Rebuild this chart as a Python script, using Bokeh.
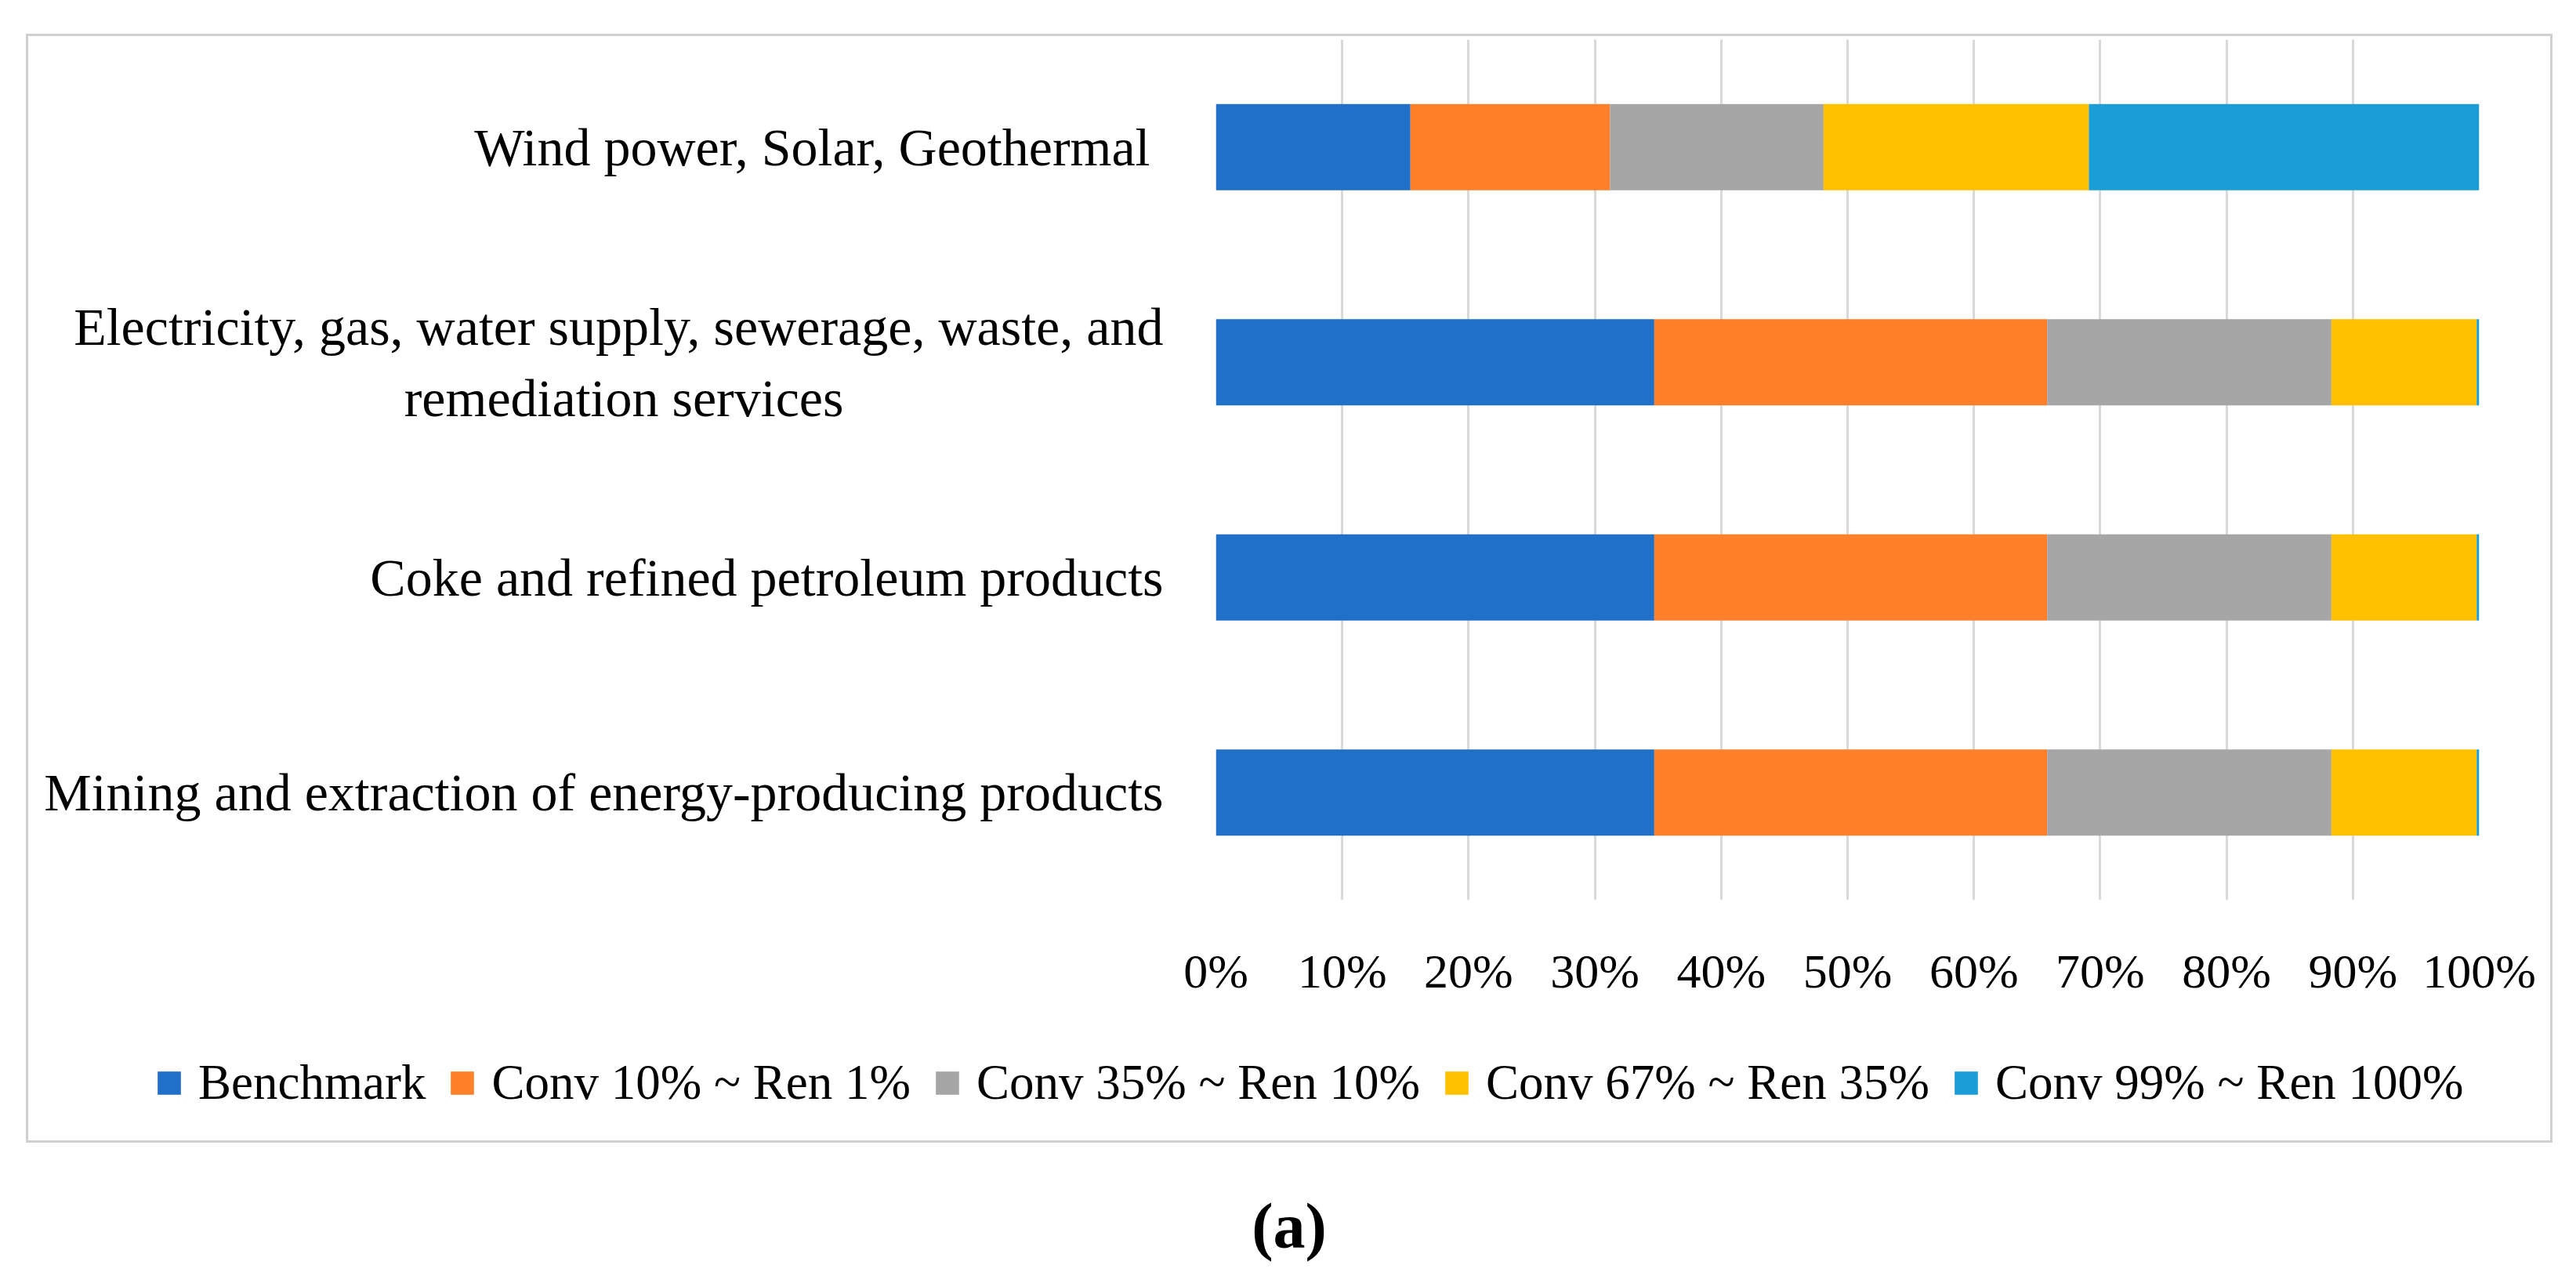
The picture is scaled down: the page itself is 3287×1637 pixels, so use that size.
from bokeh.plotting import figure
from bokeh.models import (FactorRange, Range1d, FixedTicker, PrintfTickFormatter,
                          Legend, LegendItem, ColumnDataSource, Div)
from bokeh.layouts import column
from bokeh.embed import file_html
from bokeh.resources import INLINE

# ---- data (bottom to top) ----
NBSP = "\u00a0"
categories = [
    "Mining and extraction of energy-producing products",
    "Coke and refined petroleum products",
    "Electricity, gas, water supply, sewerage, waste, and\nremediation services" + NBSP * 24,
    "Wind power, Solar, Geothermal ",
]
series_names = ["Benchmark", "Conv 10% ~ Ren 1%", "Conv 35% ~ Ren 10%",
                "Conv 67% ~ Ren 35%", "Conv 99% ~ Ren 100%"]
benchmark = [34.7, 34.7, 34.7, 15.4]
conv10_ren1 = [31.1, 31.1, 31.1, 15.8]
conv35_ren10 = [22.5, 22.5, 22.5, 16.9]
conv67_ren35 = [11.5, 11.5, 11.5, 21.0]
conv99_ren100 = [0.2, 0.2, 0.2, 30.9]
x_ticks = [0, 10, 20, 30, 40, 50, 60, 70, 80, 90, 100]
colors = ["#1F70C6", "#FF7F2A", "#A6A6A6", "#FFC000", "#1A9DD6"]

keys = ["s0", "s1", "s2", "s3", "s4"]
source = ColumnDataSource(dict(cat=categories, s0=benchmark, s1=conv10_ren1,
                               s2=conv35_ren10, s3=conv67_ren35, s4=conv99_ren100))

FONT = "Liberation Serif"
BORDER = "3px solid #D0D0D0"

# ---- main chart ----
p = figure(width=3224, height=1257, output_backend="svg", toolbar_location=None,
           y_range=FactorRange(factors=categories, range_padding=0),
           x_range=Range1d(0, 100),
           min_border_left=1515, min_border_right=97, min_border_top=4,
           min_border_bottom=155)
p.frame_align = False
p.margin = (43, 0, 0, 33)
p.styles = {"border": BORDER, "border-bottom": "none"}
p.outline_line_color = None
p.background_fill_color = "white"
p.border_fill_color = "white"

p.hbar_stack(keys, y="cat", height=0.4, color=colors, source=source, line_width=0)

p.ygrid.grid_line_color = None
p.xgrid.grid_line_color = "#D9D9D9"
p.xgrid.grid_line_width = 3
p.xaxis.ticker = FixedTicker(ticks=x_ticks)
p.xaxis.formatter = PrintfTickFormatter(format="%d%%")

for ax in (p.xaxis[0], p.yaxis[0]):
    ax.axis_line_color = None
    ax.major_tick_line_color = None
    ax.minor_tick_line_color = None
    ax.major_tick_out = 0
    ax.major_tick_in = 0
    ax.major_label_text_font = FONT
    ax.major_label_text_color = "black"

p.yaxis.major_label_text_font_size = "68px"
p.yaxis.major_label_standoff = 67
p.xaxis.major_label_text_font_size = "62px"
p.xaxis.major_label_standoff = 56

# ---- legend strip (same series, drawn outside its visible range) ----
pl = figure(width=3224, height=158, output_backend="svg", toolbar_location=None,
            y_range=FactorRange(factors=categories), x_range=Range1d(-2, -1),
            x_axis_type=None, y_axis_type=None,
            min_border_left=0, min_border_right=0, min_border_top=0, min_border_bottom=0)
pl.frame_align = False
pl.margin = (0, 0, 0, 33)
pl.styles = {"border": BORDER, "border-top": "none"}
pl.outline_line_color = None
pl.grid.visible = False
pl.background_fill_color = "white"
pl.border_fill_color = "white"
leg_renderers = pl.hbar_stack(keys, y="cat", height=0.4, color=colors, source=source,
                              line_width=0)

legend = Legend(items=[LegendItem(label=n, renderers=[r])
                       for n, r in zip(series_names, leg_renderers)],
                orientation="horizontal", location=(161, 40),
                glyph_width=37, glyph_height=37, label_standoff=19, spacing=28,
                padding=0, margin=0, border_line_color=None, background_fill_alpha=0,
                label_text_font=FONT, label_text_font_size="63px", label_text_color="black")
pl.add_layout(legend)

caption = Div(text="(a)", width=3224, height=100, margin=(58, 0, 0, 33),
              styles={"font-family": "Liberation Serif", "font-weight": "bold",
                      "font-size": "82px", "text-align": "center", "line-height": "98px",
                      "color": "black"})

layout = column(p, pl, caption)
open("out.html", "w").write(file_html(layout, INLINE))
